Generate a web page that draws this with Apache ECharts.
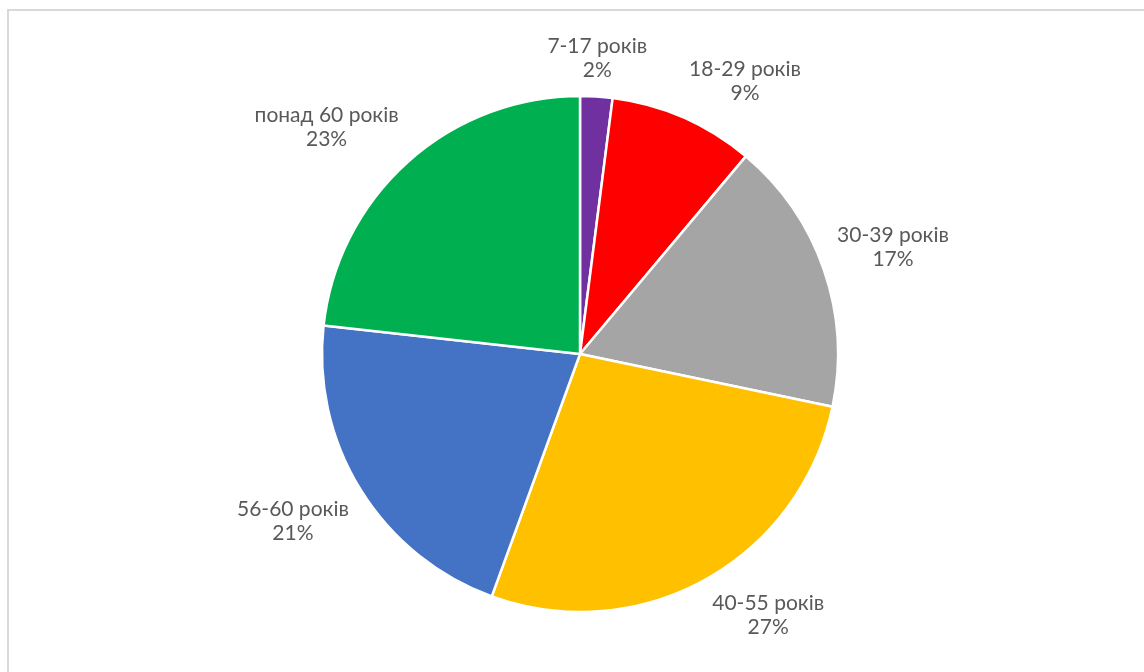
<!DOCTYPE html>
<html>
<head>
<meta charset="utf-8">
<script src="https://cdn.jsdelivr.net/npm/echarts@6/dist/echarts.min.js"></script>
<style>
  html, body { margin: 0; padding: 0; background: #ffffff; }
  #frame { position: absolute; left: 7px; top: 9px; width: 1150px; height: 680px;
           border: 2px solid #d9d9d9; box-sizing: border-box; }
  #chart { position: absolute; left: 0; top: 0; width: 1144px; height: 672px; }
</style>
</head>
<body>
<div id="frame"></div>
<div id="chart"></div>
<script>
// Age groups and their share, in percent
const categories = ['7-17 років', '18-29 років', '30-39 років', '40-55 років', '56-60 років', 'понад 60 років'];
const shares = [2, 9, 17, 27, 21, 23];
const sliceColors = ['#7030A0', '#FF0000', '#A5A5A5', '#FFC000', '#4472C4', '#00B050'];

const PIE_CENTER = [580, 354];
const PIE_RADIUS = 258;
const LABEL_GAP = 14;
const FONT = 'Lato, "Open Sans", sans-serif';

// Mid-angle of every slice, clockwise from 12 o'clock
const total = shares.reduce((a, b) => a + b, 0);
const midAngles = [];
shares.reduce((acc, v) => {
  midAngles.push((acc + v / 2) / total * 2 * Math.PI);
  return acc + v;
}, 0);

const clamp1 = (v) => Math.max(-1, Math.min(1, v));

const chart = echarts.init(document.getElementById('chart'), null, { renderer: 'canvas' });

chart.setOption({
  backgroundColor: 'transparent',
  animation: false,
  series: [{
    type: 'pie',
    center: PIE_CENTER,
    radius: PIE_RADIUS,
    startAngle: 90,
    clockwise: true,
    avoidLabelOverlap: false,
    data: categories.map((name, i) => ({
      name: name,
      value: shares[i],
      itemStyle: { color: sliceColors[i] }
    })),
    itemStyle: { borderColor: '#ffffff', borderWidth: 2.5 },
    label: {
      show: true,
      position: 'outside',
      formatter: '{t|{b}}\n{t|{c}%}',
      color: '#595959',
      fontFamily: FONT,
      fontSize: 21,
      lineHeight: 24,
      rich: {
        t: { align: 'center', color: '#595959', fontFamily: FONT, fontSize: 21, lineHeight: 24 }
      }
    },
    labelLine: { show: false },
    // Anchor each label box by its nearest corner (or edge centre near the axes)
    // to a point just outside the rim on the slice's mid-angle
    labelLayout: function (p) {
      const a = midAngles[p.dataIndex];
      const dx = Math.sin(a), dy = -Math.cos(a);
      const w = p.labelRect.width, h = p.labelRect.height;
      const d = PIE_RADIUS + LABEL_GAP;
      const ax = PIE_CENTER[0] + dx * d;
      const ay = PIE_CENTER[1] + dy * d;
      const ox = Math.abs(dx) < 0.15 ? 0 : Math.sign(dx) * w / 2;
      const oy = clamp1(dy / 0.45) * h / 2;
      return {
        x: ax + ox,
        y: ay + oy,
        align: 'center',
        verticalAlign: 'middle'
      };
    },
    emphasis: { disabled: true }
  }]
});
</script>
</body>
</html>
